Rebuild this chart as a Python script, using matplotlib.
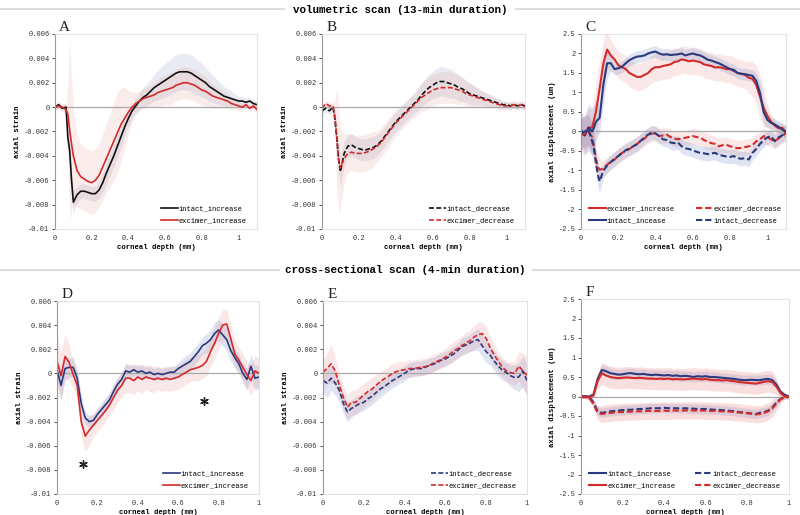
import matplotlib
matplotlib.use('Agg')
import matplotlib.pyplot as plt
import numpy as np
from matplotlib.lines import Line2D

plt.rcParams['font.family'] = ['Liberation Mono', 'DejaVu Sans Mono']
plt.rcParams['axes.unicode_minus'] = False

# ---------- data ----------
# volumetric scan: corneal depth in mm
depth_vol = [0, 0.02, 0.04, 0.06, 0.07, 0.08, 0.09, 0.10,
             0.12, 0.14, 0.16, 0.18, 0.20, 0.22, 0.24, 0.26, 0.28, 0.30,
             0.32, 0.34, 0.36, 0.38, 0.40, 0.42, 0.44, 0.46, 0.48, 0.50,
             0.52, 0.54, 0.56, 0.58, 0.60, 0.62, 0.64, 0.66, 0.68, 0.70,
             0.72, 0.74, 0.76, 0.78, 0.80, 0.82, 0.84, 0.86, 0.88, 0.90,
             0.92, 0.94, 0.96, 0.98, 1.00, 1.02, 1.04, 1.06, 1.08, 1.10]

# panel A, axial strain in units of 1e-3
a_intact_inc = [0.0, 0.2, -0.1, 0.0, -2.5, -3.6, -6.0, -7.8,
                -7.2, -6.9, -6.9, -7.0, -7.1, -7.1, -6.8, -6.2, -5.4, -4.7,
                -4.0, -3.2, -2.4, -1.6, -0.9, -0.3, 0.1, 0.5, 0.8, 1.0,
                1.3, 1.6, 1.8, 2.0, 2.2, 2.4, 2.6, 2.8, 2.9, 2.9,
                2.9, 2.8, 2.6, 2.4, 2.2, 2.0, 1.7, 1.5, 1.3, 1.1,
                0.9, 0.8, 0.7, 0.6, 0.5, 0.5, 0.4, 0.5, 0.3, 0.2]
a_intact_inc_sd = [0.2, 0.2, 0.2, 0.3, 0.6, 1.0, 1.0, 1.0,
                   0.6, 0.6, 0.6, 0.6, 0.6, 0.6, 0.7, 0.8, 0.9, 0.9,
                   0.9, 0.9, 0.9, 0.8, 0.7, 0.6, 0.6, 0.7, 0.8, 0.9,
                   1.0, 1.1, 1.2, 1.3, 1.4, 1.4, 1.5, 1.5, 1.5, 1.5,
                   1.5, 1.5, 1.5, 1.4, 1.4, 1.3, 1.2, 1.1, 1.0, 0.9,
                   0.8, 0.7, 0.6, 0.5, 0.4, 0.4, 0.3, 0.3, 0.3, 0.3]
a_excimer_inc = [0.0, 0.1, 0.0, -0.2, -0.6, -1.9, -3.0, -4.0,
                 -5.2, -5.7, -5.9, -6.1, -6.2, -6.0, -5.6, -4.9, -4.2, -3.5,
                 -2.8, -2.1, -1.4, -0.9, -0.4, 0.0, 0.3, 0.5, 0.7, 0.8,
                 0.9, 1.0, 1.2, 1.3, 1.4, 1.5, 1.6, 1.8, 1.9, 2.0,
                 2.0, 1.9, 1.8, 1.6, 1.4, 1.3, 1.1, 0.9, 0.8, 0.7,
                 0.6, 0.5, 0.3, 0.2, 0.1, 0.0, 0.2, -0.1, 0.1, -0.2]
a_excimer_inc_sd = [0.3, 0.3, 0.3, 0.5, 2.5, 7.5, 5.5, 4.0,
                    3.0, 2.7, 2.6, 2.6, 2.6, 2.6, 2.6, 2.7, 2.8, 3.0,
                    3.2, 3.3, 3.0, 2.5, 1.8, 1.2, 0.9, 0.8, 0.8, 0.8,
                    0.9, 1.0, 1.1, 1.2, 1.2, 1.3, 1.3, 1.3, 1.3, 1.3,
                    1.3, 1.3, 1.3, 1.3, 1.3, 1.2, 1.1, 1.0, 0.9, 0.8,
                    0.7, 0.6, 0.5, 0.4, 0.4, 0.3, 0.3, 0.3, 0.3, 0.3]

# panel B, axial strain in units of 1e-3
b_intact_dec = [-0.3, -0.1, -0.3, 0.0, -1.0, -2.5, -4.3, -5.3,
                -3.8, -3.2, -3.1, -3.3, -3.4, -3.5, -3.5, -3.4, -3.3, -3.1,
                -2.8, -2.4, -2.0, -1.6, -1.2, -0.9, -0.6, -0.3, 0.0, 0.3,
                0.6, 1.0, 1.3, 1.6, 1.8, 2.0, 2.1, 2.1, 2.0, 1.9,
                1.8, 1.6, 1.5, 1.3, 1.1, 1.0, 0.9, 0.8, 0.7, 0.6,
                0.5, 0.4, 0.3, 0.2, 0.2, 0.1, 0.2, 0.1, 0.2, 0.1]
b_intact_dec_sd = [0.3, 0.3, 0.3, 0.3, 0.8, 1.0, 1.2, 1.2,
                   1.0, 0.9, 0.9, 0.9, 0.9, 0.9, 0.9, 0.9, 0.9, 0.9,
                   0.8, 0.8, 0.8, 0.8, 0.8, 0.8, 0.8, 0.8, 0.8, 0.8,
                   0.9, 1.0, 1.0, 1.1, 1.1, 1.2, 1.2, 1.2, 1.2, 1.2,
                   1.1, 1.1, 1.0, 0.9, 0.9, 0.8, 0.7, 0.6, 0.6, 0.5,
                   0.5, 0.4, 0.4, 0.3, 0.3, 0.3, 0.3, 0.3, 0.3, 0.3]
b_excimer_dec = [-0.1, 0.3, 0.1, 0.1, -0.8, -2.5, -4.3, -5.0,
                 -4.2, -3.8, -3.7, -3.8, -3.8, -3.8, -3.7, -3.6, -3.4, -3.2,
                 -2.9, -2.5, -2.1, -1.7, -1.3, -1.0, -0.7, -0.4, -0.1, 0.2,
                 0.5, 0.8, 1.0, 1.2, 1.4, 1.5, 1.6, 1.6, 1.6, 1.6,
                 1.5, 1.4, 1.3, 1.1, 1.0, 0.9, 0.8, 0.7, 0.6, 0.5,
                 0.4, 0.3, 0.2, 0.1, 0.1, 0.1, 0.2, 0.1, 0.2, 0.0]
b_excimer_dec_sd = [0.3, 0.3, 0.3, 0.3, 1.5, 4.0, 4.5, 3.3,
                    2.0, 1.6, 1.5, 1.5, 1.5, 1.5, 1.5, 1.5, 1.4, 1.3,
                    1.2, 1.2, 1.2, 1.1, 1.1, 1.0, 1.0, 1.0, 1.0, 1.0,
                    1.1, 1.2, 1.3, 1.3, 1.3, 1.3, 1.3, 1.3, 1.3, 1.3,
                    1.2, 1.2, 1.1, 1.0, 1.0, 0.9, 0.8, 0.7, 0.6, 0.6,
                    0.5, 0.4, 0.4, 0.3, 0.3, 0.3, 0.3, 0.3, 0.3, 0.3]

# panel C, axial displacement (um)
c_excimer_inc = [0.0, -0.1, 0.1, 0.1, 0.3, 0.5, 0.8, 1.1,
                 1.75, 2.1, 1.95, 1.85, 1.7, 1.65, 1.6, 1.5, 1.45, 1.4,
                 1.4, 1.45, 1.5, 1.6, 1.65, 1.65, 1.68, 1.7, 1.72, 1.78,
                 1.8, 1.85, 1.83, 1.8, 1.82, 1.8, 1.78, 1.72, 1.7, 1.68,
                 1.64, 1.65, 1.63, 1.6, 1.6, 1.55, 1.5, 1.48, 1.45, 1.38,
                 1.35, 1.2, 0.9, 0.6, 0.4, 0.25, 0.15, 0.08, 0.1, -0.05]
c_excimer_inc_sd = [0.5, 0.5, 0.5, 0.5, 0.6, 0.7, 0.8, 0.7,
                    0.6, 0.5, 0.4] + [0.35] * 36 + [0.4,
                    0.45, 0.5, 0.6, 0.5, 0.3, 0.2, 0.15, 0.15, 0.15, 0.15]
c_intact_inc = [0.05, -0.1, 0.1, 0.0, 0.1, 0.25, 0.3, 0.35,
                1.2, 1.75, 1.75, 1.6, 1.62, 1.66, 1.75, 1.83, 1.88, 1.92,
                1.93, 1.95, 2.0, 2.03, 2.05, 2.0, 1.97, 1.98, 1.96, 1.97,
                1.98, 2.0, 1.95, 1.98, 2.0, 1.97, 1.95, 1.9, 1.84, 1.82,
                1.78, 1.75, 1.7, 1.65, 1.6, 1.58, 1.5, 1.48, 1.47, 1.45,
                1.43, 1.3, 1.0, 0.5, 0.3, 0.22, 0.18, 0.12, 0.05, 0.0]
c_intact_inc_sd = [0.3, 0.5, 0.6, 0.6, 0.6, 0.5, 0.4, 0.4,
                   0.5, 0.4, 0.2] + [0.15] * 36 + [0.15,
                   0.15, 0.2, 0.3, 0.3, 0.2, 0.15, 0.15, 0.15, 0.15, 0.15]
c_excimer_dec = [-0.1, -0.05, 0.0, -0.15, -0.4, -0.7, -0.9, -0.98,
                 -0.95, -0.85, -0.78, -0.72, -0.62, -0.55, -0.5, -0.45, -0.38, -0.32,
                 -0.25, -0.18, -0.1, -0.05, -0.05, -0.12, -0.1, -0.08, -0.14, -0.18,
                 -0.2, -0.18, -0.16, -0.14, -0.12, -0.14, -0.16, -0.22, -0.26, -0.3,
                 -0.32, -0.38, -0.35, -0.34, -0.38, -0.4, -0.43, -0.42, -0.4, -0.38,
                 -0.35, -0.25, -0.2, -0.12, -0.15, -0.2, -0.25, -0.18, -0.1, -0.05]
c_excimer_dec_sd = [0.4, 0.4, 0.4, 0.4, 0.35, 0.3, 0.3, 0.3] + [0.2] * 50
c_intact_dec = [-0.05, 0.0, 0.05, -0.25, -0.45, -0.8, -1.1, -1.28,
                -1.0, -0.88, -0.78, -0.7, -0.63, -0.56, -0.48, -0.43, -0.38, -0.33,
                -0.24, -0.15, -0.08, -0.02, -0.05, -0.12, -0.2, -0.22, -0.28, -0.3,
                -0.28, -0.38, -0.43, -0.45, -0.48, -0.52, -0.55, -0.56, -0.58, -0.56,
                -0.55, -0.6, -0.62, -0.64, -0.65, -0.63, -0.68, -0.7, -0.68, -0.72,
                -0.55, -0.45, -0.32, -0.22, -0.15, -0.12, -0.25, -0.15, -0.1, 0.0]
c_intact_dec_sd = [0.4, 0.4, 0.4, 0.4, 0.35, 0.3, 0.3, 0.3] + [0.18] * 50

# cross-sectional scan: corneal depth in mm
depth_cross = [0, 0.02, 0.04, 0.06, 0.08, 0.10, 0.12, 0.14, 0.16, 0.18,
               0.20, 0.22, 0.24, 0.26, 0.28, 0.30, 0.32, 0.34, 0.36, 0.38,
               0.40, 0.42, 0.44, 0.46, 0.48, 0.50, 0.52, 0.54, 0.56, 0.58,
               0.60, 0.62, 0.64, 0.66, 0.68, 0.70, 0.72, 0.74, 0.76, 0.78,
               0.80, 0.82, 0.84, 0.86, 0.88, 0.90, 0.92, 0.94, 0.96, 0.98,
               1.00]

# panel D, axial strain in units of 1e-3
d_intact_inc = [0.3, -1.0, 0.4, 0.5, 0.5, -0.4, -2.5, -3.7, -4.0, -3.9,
                -3.4, -3.0, -2.6, -2.2, -1.5, -0.9, -0.5, 0.2, 0.1, 0.3,
                0.1, 0.2, 0.0, 0.1, -0.1, 0.0, -0.1, 0.0, 0.1, 0.1,
                0.4, 0.6, 0.8, 1.0, 1.4, 1.8, 2.3, 2.5, 2.8, 3.3,
                3.6, 3.2, 2.8, 1.9, 1.3, 0.8, 0.0, -0.5, 0.6, -0.4,
                -0.3]
d_intact_inc_sd = [1.0, 1.2, 1.0, 0.8, 0.8, 0.8, 0.7, 0.5, 0.5, 0.5,
                   0.5, 0.6, 0.6, 0.6, 0.6, 0.6, 0.6, 0.6, 0.5, 0.5,
                   0.5, 0.5, 0.5, 0.5, 0.5, 0.5, 0.5, 0.5, 0.5, 0.5,
                   0.5, 0.6, 0.7, 0.7, 0.7, 0.7, 0.7, 0.8, 0.8, 0.9,
                   0.9, 0.9, 0.9, 0.9, 0.8, 0.8, 0.8, 0.9, 1.0, 1.0,
                   1.0]
d_excimer_inc = [1.0, -0.2, 1.4, 0.9, -0.1, -1.0, -4.0, -5.2, -4.7, -4.3,
                 -3.9, -3.5, -3.1, -2.6, -2.0, -1.4, -1.0, -0.4, -0.4, -0.6,
                 -0.3, -0.5, -0.3, -0.4, -0.5, -0.4, -0.5, -0.4, -0.5, -0.4,
                 -0.3, -0.1, 0.1, 0.3, 0.4, 0.5, 0.65, 1.0, 1.8, 2.5,
                 3.3, 4.0, 4.1, 2.9, 1.6, 1.1, 0.5, -0.1, -0.6, 0.2,
                 0.0]
d_excimer_inc_sd = [2.0, 2.0, 1.8, 1.5, 1.2, 1.2, 1.3, 1.3, 1.2, 1.0,
                    0.9, 0.9, 0.9, 0.9, 1.0, 1.0, 1.0, 1.2, 1.2, 1.2,
                    1.1, 1.2, 1.0, 1.1, 1.1, 1.0, 1.0, 1.0, 1.0, 1.0,
                    1.0, 1.0, 1.0, 1.0, 1.0, 1.1, 1.1, 1.2, 1.2, 1.3,
                    1.3, 1.3, 1.2, 1.2, 1.1, 1.1, 1.1, 1.1, 1.2, 1.3,
                    1.3]
star_depth = [0.13, 0.73]
star_strain = [-7.5, -2.3]

# panel E, axial strain in units of 1e-3
e_intact_dec = [-0.6, -0.8, -0.4, -0.8, -1.4, -2.5, -3.2, -2.9, -2.7, -2.5,
                -2.4, -2.1, -1.9, -1.6, -1.3, -1.1, -0.85, -0.6, -0.4, -0.2,
                0.0, 0.25, 0.35, 0.4, 0.4, 0.5, 0.65, 0.75, 0.9, 1.1,
                1.2, 1.4, 1.6, 1.9, 2.2, 2.35, 2.5, 2.7, 2.8, 2.3,
                1.8, 1.5, 1.0, 0.6, 0.25, 0.05, -0.2, -0.35, -0.3, 0.2,
                -0.6]
e_intact_dec_sd = [1.0, 1.2, 1.0, 1.0, 0.9, 0.8, 0.8, 0.7, 0.7, 0.7,
                   0.7, 0.7, 0.7, 0.7, 0.7, 0.6, 0.6, 0.6, 0.6, 0.6,
                   0.6, 0.6, 0.6, 0.6, 0.6, 0.6, 0.6, 0.6, 0.6, 0.6,
                   0.6, 0.6, 0.6, 0.6, 0.7, 0.7, 0.7, 0.8, 0.9, 0.9,
                   0.9, 0.8, 0.8, 0.8, 0.8, 0.8, 0.9, 1.0, 1.2, 1.3,
                   1.3]
e_excimer_dec = [0.1, 0.4, 0.8, 0.2, -1.0, -2.0, -2.8, -2.4, -2.4, -2.1,
                 -1.8, -1.5, -1.3, -1.0, -0.7, -0.45, -0.25, 0.0, 0.15, 0.25,
                 0.3, 0.4, 0.4, 0.45, 0.5, 0.55, 0.65, 0.85, 1.0, 1.15,
                 1.35, 1.55, 1.85, 2.05, 2.3, 2.5, 2.7, 3.0, 3.2, 3.3,
                 2.9, 2.1, 1.5, 1.0, 0.5, 0.2, 0.05, 0.0, 0.6, 0.2,
                 -0.15]
e_excimer_dec_sd = [1.0, 1.3, 1.6, 1.2, 1.0, 1.0, 1.0, 1.0, 1.0, 1.0,
                    1.0, 0.9, 0.9, 0.9, 0.8, 0.8, 0.8, 0.8, 0.8, 0.7,
                    0.7, 0.7, 0.7, 0.7, 0.7, 0.7, 0.7, 0.7, 0.7, 0.7,
                    0.7, 0.8, 0.8, 0.8, 0.8, 0.9, 0.9, 1.0, 1.0, 1.0,
                    1.0, 0.9, 0.9, 0.8, 0.8, 0.8, 0.9, 1.0, 1.2, 1.5,
                    1.6]

# panel F, axial displacement (um)
f_intact_inc = [0.0, 0.0, 0.0, 0.05, 0.45, 0.68, 0.65, 0.6, 0.58, 0.56,
                0.57, 0.59, 0.6, 0.58, 0.57, 0.58, 0.56, 0.55, 0.56, 0.55,
                0.54, 0.55, 0.53, 0.54, 0.52, 0.53, 0.52, 0.5, 0.52, 0.51,
                0.52, 0.5, 0.5, 0.49, 0.48, 0.47, 0.46, 0.45, 0.43, 0.42,
                0.42, 0.43, 0.42, 0.42, 0.44, 0.45, 0.42, 0.3, 0.12, 0.04,
                0.0]
f_intact_inc_sd = [0.05, 0.05, 0.05, 0.08, 0.12] + [0.13] * 42 + [0.1, 0.06, 0.05, 0.05]
f_excimer_inc = [0.0, 0.0, -0.02, 0.03, 0.4, 0.6, 0.54, 0.5, 0.48, 0.47,
                 0.48, 0.49, 0.48, 0.47, 0.48, 0.47, 0.46, 0.46, 0.45, 0.46,
                 0.45, 0.46, 0.44, 0.45, 0.44, 0.44, 0.45, 0.46, 0.45, 0.44,
                 0.45, 0.43, 0.42, 0.42, 0.41, 0.42, 0.4, 0.39, 0.37, 0.36,
                 0.35, 0.34, 0.33, 0.35, 0.38, 0.39, 0.37, 0.25, 0.08, 0.0,
                 -0.02]
f_excimer_inc_sd = [0.05, 0.05, 0.05, 0.1, 0.2] + [0.28] * 42 + [0.2, 0.1, 0.05, 0.05]
f_intact_dec = [0.0, 0.0, -0.02, -0.15, -0.38, -0.42, -0.4, -0.38, -0.37, -0.36,
                -0.35, -0.34, -0.34, -0.33, -0.32, -0.32, -0.31, -0.3, -0.3, -0.3,
                -0.29, -0.3, -0.3, -0.3, -0.31, -0.3, -0.31, -0.31, -0.32, -0.32,
                -0.32, -0.33, -0.34, -0.34, -0.35, -0.36, -0.37, -0.38, -0.4, -0.41,
                -0.42, -0.44, -0.45, -0.42, -0.4, -0.36, -0.28, -0.15, -0.06, -0.02,
                0.0]
f_intact_dec_sd = [0.05, 0.05, 0.05, 0.08, 0.12] + [0.12] * 42 + [0.1, 0.06, 0.05, 0.05]
f_excimer_dec = [0.0, -0.01, -0.04, -0.2, -0.42, -0.45, -0.43, -0.42, -0.41, -0.4,
                 -0.4, -0.39, -0.39, -0.38, -0.38, -0.38, -0.37, -0.37, -0.37, -0.37,
                 -0.36, -0.37, -0.36, -0.36, -0.36, -0.36, -0.35, -0.36, -0.36, -0.36,
                 -0.36, -0.37, -0.37, -0.38, -0.38, -0.38, -0.39, -0.4, -0.41, -0.42,
                 -0.43, -0.44, -0.46, -0.45, -0.42, -0.38, -0.3, -0.18, -0.07, -0.02,
                 0.0]
f_excimer_dec_sd = [0.05, 0.05, 0.05, 0.1, 0.18] + [0.22] * 42 + [0.18, 0.1, 0.05, 0.05]

strain_ticks = [-0.01, -0.008, -0.006, -0.004, -0.002, 0, 0.002, 0.004, 0.006]
strain_labels = ['-0.01', '-0.008', '-0.006', '-0.004', '-0.002', '0',
                 '0.002', '0.004', '0.006']
disp_ticks = [-2.5, -2, -1.5, -1, -0.5, 0, 0.5, 1, 1.5, 2, 2.5]
disp_labels = ['-2.5', '-2', '-1.5', '-1', '-0.5', '0', '0.5', '1', '1.5', '2', '2.5']
depth_ticks = [0, 0.2, 0.4, 0.6, 0.8, 1]
depth_labels = ['0', '0.2', '0.4', '0.6', '0.8', '1']

RED = '#d42a2a'
NAVY = '#2b3a7c'
BLACK = '#111111'
GRAYBAND = '#9aa6c2'
BLUEBAND = '#6f86c4'
PINK = '#e46a6a'
SOLID = '-'
DASH = (0, (3, 1.4))


def draw_panel(ax, depth, curves, scale, ylim, yticks, ylabels, ylabel,
               xmax, letter, ncol, legend_anchor, lw, colspace=2.2):
    for vals, sd, col, bandcol, alpha, ls, lab in curves:
        v = np.array(vals) * scale
        s = np.array(sd) * scale
        ax.fill_between(depth, v - s, v + s, color=bandcol, alpha=alpha, lw=0)
    handles = []
    for vals, sd, col, bandcol, alpha, ls, lab in curves:
        v = np.array(vals) * scale
        h, = ax.plot(depth, v, color=col, lw=lw, ls=ls, label=lab)
        handles.append(h)
    ax.axhline(0, color='#aaaaaa', lw=0.9, zorder=1)
    ax.set_xlim(0, xmax)
    ax.set_ylim(*ylim)
    ax.set_yticks(yticks)
    ax.set_yticklabels(ylabels)
    ax.set_xticks(depth_ticks)
    ax.set_xticklabels(depth_labels)
    ax.tick_params(axis='both', labelsize=5, colors='#333333', length=2,
                   width=0.6, pad=2)
    ax.tick_params(axis='x', length=0, pad=4)
    for side in ['top', 'right', 'bottom']:
        ax.spines[side].set_color('#e2e2e2')
        ax.spines[side].set_linewidth(0.8)
    ax.spines['left'].set_color('#999999')
    ax.spines['left'].set_linewidth(0.8)
    ax.set_ylabel(ylabel, fontsize=5.2, fontweight='bold', labelpad=2)
    ax.set_xlabel('corneal depth (mm)', fontsize=5.2, fontweight='bold',
                  labelpad=2)
    ax.text(0.02, 1.0, letter, transform=ax.transAxes, fontsize=11,
            family='Liberation Serif', va='bottom', ha='left', color='#222222')
    ax.legend(handles=handles, loc='lower right', bbox_to_anchor=legend_anchor,
              ncol=ncol, frameon=False, fontsize=5.1, handlelength=2.4,
              handletextpad=0.1, labelspacing=0.7, columnspacing=colspace,
              borderaxespad=0.2)


fig = plt.figure(figsize=(8, 5.15), dpi=100)
W, H = 800, 515


def add_axes(left, right, top, bottom):
    return fig.add_axes([left / W, 1 - bottom / H, (right - left) / W, (bottom - top) / H])


ax_a = add_axes(55, 257, 34, 229)
ax_b = add_axes(322, 525, 34, 229)
ax_c = add_axes(581, 786, 34, 229)
ax_d = add_axes(57, 259, 301, 494)
ax_e = add_axes(323, 527, 301, 494)
ax_f = add_axes(581, 789, 299, 494)

draw_panel(ax_a, depth_vol, [
    (a_intact_inc, a_intact_inc_sd, BLACK, GRAYBAND, 0.22, SOLID, 'intact_increase'),
    (a_excimer_inc, a_excimer_inc_sd, RED, PINK, 0.12, SOLID, 'excimer_increase'),
], 1e-3, (-0.01, 0.006), strain_ticks, strain_labels, 'axial strain',
    1.1, 'A', 1, (0.97, 0.0), 1.2)

draw_panel(ax_b, depth_vol, [
    (b_intact_dec, b_intact_dec_sd, BLACK, GRAYBAND, 0.22, DASH, 'intact_decrease'),
    (b_excimer_dec, b_excimer_dec_sd, RED, PINK, 0.12, DASH, 'excimer_decrease'),
], 1e-3, (-0.01, 0.006), strain_ticks, strain_labels, 'axial strain',
    1.1, 'B', 1, (0.97, 0.0), 1.2)

draw_panel(ax_c, depth_vol, [
    (c_excimer_inc, c_excimer_inc_sd, RED, PINK, 0.15, SOLID, 'excimer_increase'),
    (c_intact_inc, c_intact_inc_sd, NAVY, BLUEBAND, 0.22, SOLID, 'intact_incease'),
    (c_excimer_dec, c_excimer_dec_sd, RED, PINK, 0.15, DASH, 'excimer_decrease'),
    (c_intact_dec, c_intact_dec_sd, NAVY, BLUEBAND, 0.22, DASH, 'intact_decrease'),
], 1, (-2.5, 2.5), disp_ticks, disp_labels, 'axial displacement (um)',
    1.1, 'C', 2, (1.0, 0.0), 1.5, colspace=3.0)

draw_panel(ax_d, depth_cross, [
    (d_intact_inc, d_intact_inc_sd, NAVY, BLUEBAND, 0.22, SOLID, 'intact_increase'),
    (d_excimer_inc, d_excimer_inc_sd, RED, PINK, 0.15, SOLID, 'excimer_increase'),
], 1e-3, (-0.01, 0.006), strain_ticks, strain_labels, 'axial strain',
    1.0, 'D', 1, (0.97, 0.0), 1.2)
ax_d.scatter(star_depth, np.array(star_strain) * 1e-3, marker=(6, 2, 0), s=30,
             color='#222222', linewidths=1.0, zorder=5)

draw_panel(ax_e, depth_cross, [
    (e_intact_dec, e_intact_dec_sd, NAVY, BLUEBAND, 0.22, DASH, 'intact_decrease'),
    (e_excimer_dec, e_excimer_dec_sd, RED, PINK, 0.15, DASH, 'excimer_decrease'),
], 1e-3, (-0.01, 0.006), strain_ticks, strain_labels, 'axial strain',
    1.0, 'E', 1, (0.97, 0.0), 1.2)

draw_panel(ax_f, depth_cross, [
    (f_intact_inc, f_intact_inc_sd, NAVY, BLUEBAND, 0.22, SOLID, 'intact_increase'),
    (f_excimer_inc, f_excimer_inc_sd, RED, PINK, 0.22, SOLID, 'excimer_increase'),
    (f_intact_dec, f_intact_dec_sd, NAVY, BLUEBAND, 0.22, DASH, 'intact_decrease'),
    (f_excimer_dec, f_excimer_dec_sd, RED, PINK, 0.22, DASH, 'excimer_decrease'),
], 1, (-2.5, 2.5), disp_ticks, disp_labels, 'axial displacement (um)',
    1.0, 'F', 2, (0.98, 0.0), 1.5, colspace=2.8)

# section headers with grey rules
fig.text(400 / W, 1 - 10 / H, 'volumetric scan (13-min duration)', ha='center',
         va='center', fontsize=7.8, fontweight='bold')
fig.add_artist(Line2D([0, 284 / W], [1 - 9 / H, 1 - 9 / H], color='#dcdcdc', lw=1.5))
fig.add_artist(Line2D([516 / W, 1], [1 - 9 / H, 1 - 9 / H], color='#dcdcdc', lw=1.5))

fig.text(405 / W, 1 - 270 / H, 'cross-sectional scan (4-min duration)', ha='center',
         va='center', fontsize=7.8, fontweight='bold')
fig.add_artist(Line2D([0, 279 / W], [1 - 270 / H, 1 - 270 / H], color='#dcdcdc', lw=1.5))
fig.add_artist(Line2D([533 / W, 1], [1 - 270 / H, 1 - 270 / H], color='#dcdcdc', lw=1.5))

fig.savefig('out.png', dpi=100, facecolor='white')
